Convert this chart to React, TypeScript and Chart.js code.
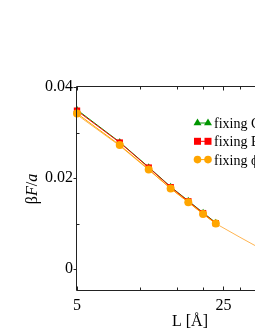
import React, { useEffect, useRef } from 'react';
import { Chart, registerables } from 'chart.js';

Chart.register(...registerables);

// ---- data ----
const L = [5, 8, 11, 14, 17, 20, 23];
const fixC = [0.035, 0.0279, 0.0224, 0.0181, 0.015, 0.0124, 0.0102];
const fixE = [0.0348, 0.0278, 0.0223, 0.018, 0.0149, 0.0123, 0.0101];
const fixPhi = [0.0342, 0.02725, 0.0219, 0.0177, 0.0147, 0.0121, 0.01];
const fitL = [5, 8, 11, 14, 17, 20, 23, 30, 36, 40];
const fitY = [0.0339, 0.0271, 0.0218, 0.0177, 0.0147, 0.0121, 0.01, 0.0070, 0.005, 0.0042];
const xTicks = [5, 10, 15, 20, 25, 30, 40, 50, 60];
const xLabelled = [5, 25];
const yTicks = [0, 0.01, 0.02, 0.03, 0.04];
const yTickLabels = ['0', '', '0.02', '', '0.04'];
const legendLabels = ['fixing C', 'fixing E', 'fixing \u03d5'];

const GREEN = 'rgb(0,150,0)';
const RED = 'rgb(255,0,0)';
const ORANGE = 'rgb(255,165,0)';
const FONT = "'Liberation Serif', 'Times New Roman', serif";

const W = 320;
const H = 330;

function drawMarker(ctx: CanvasRenderingContext2D, kind: string, x: number, y: number, color: string) {
  ctx.fillStyle = color;
  ctx.beginPath();
  if (kind === 'triangle') {
    const r = 4.6;
    ctx.moveTo(x, y - r);
    ctx.lineTo(x + r * 0.866, y + r * 0.5);
    ctx.lineTo(x - r * 0.866, y + r * 0.5);
    ctx.closePath();
  } else if (kind === 'rect') {
    ctx.rect(x - 3.5, y - 3.5, 7, 7);
  } else {
    ctx.arc(x, y, 3.8, 0, Math.PI * 2);
  }
  ctx.fill();
}

const framePlugin = {
  id: 'frame',
  afterDraw(chart: any) {
    const { ctx, chartArea: a, scales } = chart;
    const xs = scales.x;
    const ys = scales.y;
    ctx.save();
    ctx.strokeStyle = '#222';
    ctx.lineWidth = 1;
    const l = Math.round(a.left) - 0.5;
    const t = Math.round(a.top) - 0.5;
    const b = Math.round(a.bottom) - 0.5;
    const r = Math.round(a.right) - 0.5;
    ctx.beginPath();
    ctx.moveTo(l, t);
    ctx.lineTo(r, t);
    ctx.lineTo(r, b);
    ctx.lineTo(l, b);
    ctx.closePath();
    ctx.stroke();
    // y ticks
    yTicks.forEach((v, i) => {
      const py = Math.round(ys.getPixelForValue(v)) + 0.5;
      ctx.beginPath();
      if (yTickLabels[i] !== '') {
        ctx.moveTo(l - 3, py);
        ctx.lineTo(l, py);
      } else {
        ctx.moveTo(l, py);
        ctx.lineTo(l + 3, py);
      }
      ctx.stroke();
    });
    // x ticks (bottom and top, inward)
    xTicks.forEach((v) => {
      const px = Math.round(xs.getPixelForValue(v)) + 0.5;
      const len = xLabelled.includes(v) ? 4 : 3;
      ctx.beginPath();
      ctx.moveTo(px, b);
      ctx.lineTo(px, b - len);
      ctx.moveTo(px, t);
      ctx.lineTo(px, t + len);
      ctx.stroke();
    });

    // axis titles
    ctx.fillStyle = '#000';
    ctx.textBaseline = 'alphabetic';
    ctx.font = `16px ${FONT}`;
    ctx.textAlign = 'center';
    ctx.fillText('L [\u00c5]', (a.left + a.right) / 2, 326);

    // y title: βF/a with italic F and a
    const parts: [string, boolean][] = [['\u03b2', false], ['F', true], ['/', false], ['a', true]];
    let total = 0;
    const widths = parts.map(([s, it]) => {
      ctx.font = `${it ? 'italic ' : ''}16px ${FONT}`;
      const w = ctx.measureText(s).width;
      total += w;
      return w;
    });
    ctx.translate(37, (a.top + a.bottom) / 2);
    ctx.rotate(-Math.PI / 2);
    ctx.textAlign = 'left';
    let cx = -total / 2;
    parts.forEach(([s, it], i) => {
      ctx.font = `${it ? 'italic ' : ''}16px ${FONT}`;
      ctx.fillText(s, cx, 0);
      cx += widths[i];
    });
    ctx.setTransform(1, 0, 0, 1, 0, 0);

    // legend
    const rows = [
      { kind: 'triangle', color: GREEN },
      { kind: 'rect', color: RED },
      { kind: 'circle', color: ORANGE },
    ];
    ctx.font = `14px ${FONT}`;
    ctx.textAlign = 'left';
    rows.forEach((row, i) => {
      const cy = 123 + i * 18.3;
      ctx.strokeStyle = row.color;
      ctx.beginPath();
      ctx.moveTo(197, cy);
      ctx.lineTo(208, cy);
      ctx.stroke();
      drawMarker(ctx, row.kind, 197.5, cy, row.color);
      drawMarker(ctx, row.kind, 208, cy, row.color);
      ctx.fillStyle = '#000';
      ctx.fillText(legendLabels[i], 214, cy + 5);
    });
    ctx.restore();
  },
};

export default function App() {
  const ref = useRef<HTMLCanvasElement | null>(null);
  useEffect(() => {
    if (!ref.current) return;
    const mk = (xsArr: number[], ysArr: number[]) => xsArr.map((x, i) => ({ x, y: ysArr[i] }));
    const chart = new Chart(ref.current, {
      type: 'line',
      data: {
        datasets: [
          {
            label: legendLabels[2],
            data: mk(L, fixPhi),
            borderColor: ORANGE,
            backgroundColor: ORANGE,
            borderWidth: 1,
            pointStyle: 'circle',
            pointRadius: 4,
            pointBorderWidth: 0,
            clip: false,
          } as any,
          {
            label: legendLabels[1],
            data: mk(L, fixE),
            borderColor: RED,
            backgroundColor: RED,
            borderWidth: 1,
            pointStyle: 'rect',
            pointRadius: 4.5,
            pointBorderWidth: 0,
            clip: false,
          },
          {
            label: legendLabels[0],
            data: mk(L, fixC),
            borderColor: GREEN,
            backgroundColor: GREEN,
            borderWidth: 1,
            pointStyle: 'triangle',
            pointRadius: 4,
            pointBorderWidth: 0,
            clip: false,
          },
          {
            label: 'fit',
            data: mk(fitL, fitY),
            borderColor: 'rgb(255,180,80)',
            borderWidth: 1,
            pointRadius: 0,
            clip: false,
          },
        ],
      },
      options: {
        animation: false,
        responsive: false,
        maintainAspectRatio: false,
        devicePixelRatio: 1,
        layout: { padding: { top: 87, right: W - 303, left: 0, bottom: 0 } },
        plugins: { legend: { display: false }, tooltip: { enabled: false } },
        scales: {
          x: {
            type: 'logarithmic',
            min: 5,
            max: 60,
            grid: { display: false, drawTicks: false },
            border: { display: false },
            afterBuildTicks: (s: any) => {
              s.ticks = xTicks.map((v) => ({ value: v }));
            },
            afterFit: (s: any) => {
              s.height = H - 291;
            },
            ticks: {
              autoSkip: false,
              maxRotation: 0,
              padding: 5,
              color: '#000',
              font: { family: FONT, size: 16 },
              callback: (v: any) => (xLabelled.includes(Number(v)) ? String(v) : ''),
            },
          },
          y: {
            type: 'linear',
            min: -0.0048,
            max: 0.04,
            grid: { display: false, drawTicks: false },
            border: { display: false },
            afterBuildTicks: (s: any) => {
              s.ticks = yTicks.map((v) => ({ value: v }));
            },
            afterFit: (s: any) => {
              s.width = 77;
            },
            ticks: {
              padding: 4,
              color: '#000',
              font: { family: FONT, size: 16 },
              callback: (v: any) => {
                const i = yTicks.findIndex((t) => Math.abs(t - Number(v)) < 1e-9);
                return i >= 0 ? yTickLabels[i] : '';
              },
            },
          },
        },
      },
      plugins: [framePlugin],
    });
    return () => chart.destroy();
  }, []);
  return (
    <div style={{ position: 'absolute', left: 0, top: 0, width: 255, height: H, overflow: 'hidden', background: '#fff' }}>
      <canvas ref={ref} width={W} height={H} style={{ display: 'block', width: W, height: H }} />
    </div>
  );
}
